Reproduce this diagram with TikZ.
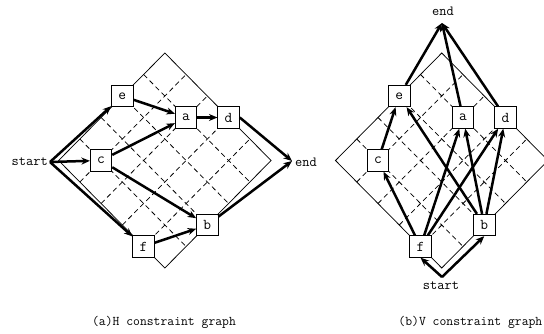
\documentclass[tikz,border=0pt]{standalone}
\usetikzlibrary{arrows.meta}
\begin{document}
\begin{tikzpicture}[x=1pt,y=-1pt,
  gridline/.style={line width=0.75pt},
  dashline/.style={line width=0.75pt, dash pattern=on 5pt off 3.5pt},
  mod/.style={draw, line width=0.8pt, fill=white, minimum size=21.5pt, inner sep=0pt, font=\fontsize{15}{15}\ttfamily},
  lbl/.style={font=\fontsize{14}{14}\ttfamily, inner sep=0pt},
  captiontext/.style={font=\fontsize{13.3}{13.3}\ttfamily, inner sep=0pt},
  conn/.style={line width=2.5pt, -{Stealth[length=8.5pt,width=7pt]}},
  diagram/.style={x={(21.25pt,21.5pt)}, y={(21.25pt,-21.5pt)}}
]
\useasboundingbox (0,0) rectangle (544,334);

% ---------- (a) H constraint graph ----------
\begin{scope}[shift={(58.6,160.5)}, diagram]
  \draw[gridline] (0,0) -- (5,0) -- (5,5) -- (0,5) -- cycle;
  \foreach \i in {1,...,4} {
    \draw[dashline] (\i,0) -- (\i,5);
    \draw[dashline] (0,\i) -- (5,\i);
  }
  \node[mod] (He) at (3,0) {e};
  \node[mod] (Ha) at (4,2) {a};
  \node[mod] (Hd) at (5,3) {d};
  \node[mod] (Hc) at (1,1) {c};
  \node[mod] (Hb) at (2,5) {b};
  \node[mod] (Hf) at (0,4) {f};
\end{scope}
\coordinate (Hs) at (50,162);
\coordinate (Hend) at (292,161);
\node[lbl, anchor=east] (Hstart) at (48,162) {start};
\node[lbl, anchor=west] (Hendl) at (295,162) {end};
\draw[conn] (Hs) -- (He);
\draw[conn] (Hs) -- (Hc);
\draw[conn] (Hs) -- (Hf);
\draw[conn] (He) -- (Ha);
\draw[conn] (Hc) -- (Ha);
\draw[conn] (Ha) -- (Hd);
\draw[conn] (Hc) -- (Hb);
\draw[conn] (Hf) -- (Hb);
\draw[conn] (Hd.east) -- (Hend);
\draw[conn] (Hb) -- (Hend);

% ---------- (b) V constraint graph ----------
\begin{scope}[shift={(335.5,160.5)}, diagram]
  \draw[gridline] (0,0) -- (5,0) -- (5,5) -- (0,5) -- cycle;
  \foreach \i in {1,...,4} {
    \draw[dashline] (\i,0) -- (\i,5);
    \draw[dashline] (0,\i) -- (5,\i);
  }
  \node[mod] (Ve) at (3,0) {e};
  \node[mod] (Va) at (4,2) {a};
  \node[mod] (Vd) at (5,3) {d};
  \node[mod] (Vc) at (1,1) {c};
  \node[mod] (Vb) at (2,5) {b};
  \node[mod] (Vf) at (0,4) {f};
\end{scope}
\coordinate (Vs) at (442,277);
\coordinate (Vend) at (442,23);
\node[lbl] (Vstart) at (441,286) {start};
\node[lbl] (Vendl) at (443,11) {end};
\draw[conn] (Vs) -- (Vf.south);
\draw[conn] (Vs) -- (Vb.south);
\draw[conn] (Vf) -- (Vc);
\draw[conn] (Vf) -- (Va);
\draw[conn] (Vf) -- (Vd);
\draw[conn] (Vb) -- (Ve);
\draw[conn] (Vb) -- (Va);
\draw[conn] (Vb) -- (Vd);
\draw[conn] (Vc) -- (Ve);
\draw[conn] (Ve) -- (Vend);
\draw[conn] (Va) -- (Vend);
\draw[conn] (Vd) -- (Vend);

% ---------- captions ----------
\node[captiontext] (capa) at (164,322) {(a)H constraint graph};
\node[captiontext, anchor=east] (capb) at (542.5,322) {(b)V constraint graph};
\end{tikzpicture}
\end{document}
